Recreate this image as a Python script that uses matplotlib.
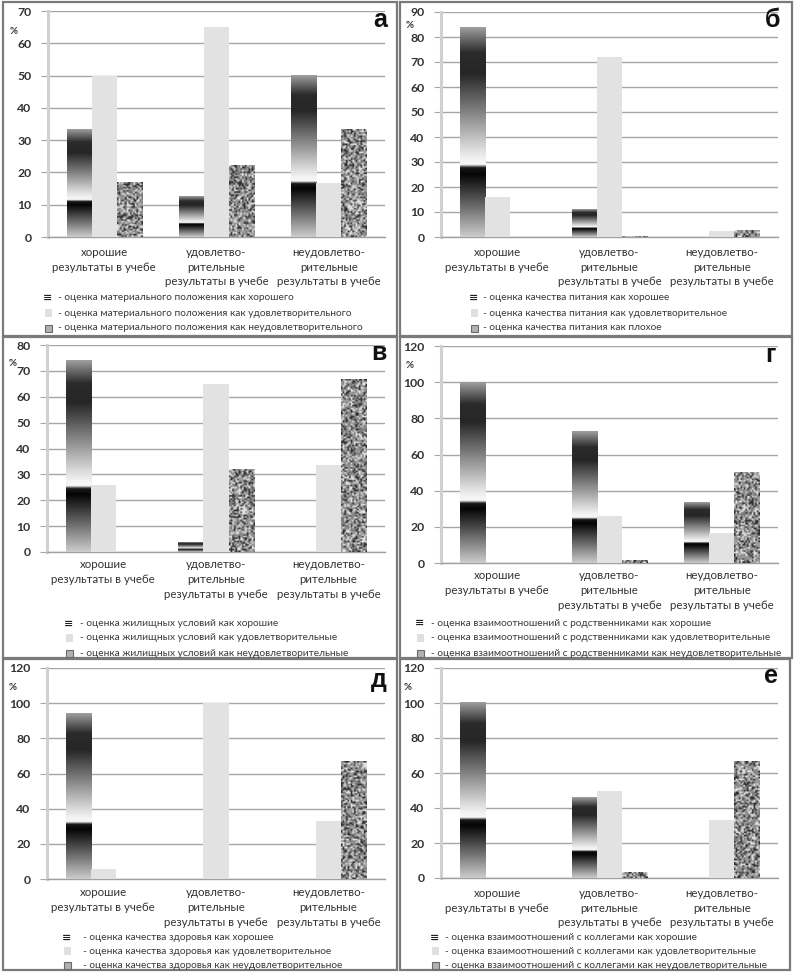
import numpy as np
import matplotlib
matplotlib.use("Agg")
import matplotlib.pyplot as plt
from matplotlib.patches import Rectangle

plt.rcParams['font.family'] = ['Lato', 'DejaVu Sans']

W, H = 795, 977

# ---------------- data ----------------
categories = ["хорошие\nрезультаты в учебе",
              "удовлетво-\nрительные\nрезультаты в учебе",
              "неудовлетво-\nрительные\nрезультаты в учебе"]

a_good = [33.3, 12.5, 50.0]
a_satisf = [50.0, 65.0, 16.7]
a_bad = [17.0, 22.0, 33.3]

b_good = [84.0, 11.0, 0.0]
b_satisf = [16.0, 72.0, 2.5]
b_bad = [0.0, 0.3, 2.6]

v_good = [74.0, 3.8, 0.0]
v_satisf = [26.0, 65.0, 33.5]
v_bad = [0.0, 31.8, 66.7]

g_good = [100.0, 72.5, 33.3]
g_satisf = [0.0, 26.0, 16.5]
g_bad = [0.0, 1.5, 50.0]

d_good = [94.0, 0.0, 0.0]
d_satisf = [5.7, 100.0, 33.0]
d_bad = [0.0, 0.0, 66.7]

e_good = [100.0, 46.0, 0.0]
e_satisf = [0.0, 50.0, 33.0]
e_bad = [0.0, 3.3, 66.7]

a_legend = ["- оценка материального положения как хорошего",
            "- оценка материального положения как удовлетворительного",
            "- оценка материального положения как неудовлетворительного"]
b_legend = ["- оценка качества питания как хорошее",
            "- оценка качества питания как удовлетворительное",
            "- оценка качества питания как плохое"]
v_legend = ["- оценка жилищных условий как хорошие",
            "- оценка жилищных условий как удовлетворительные",
            "- оценка жилищных условий как неудовлетворительные"]
g_legend = ["- оценка взаимоотношений с родственниками как хорошие",
            "- оценка взаимоотношений с родственниками как удовлетворительные",
            "- оценка взаимоотношений с родственниками как неудовлетворительные"]
d_legend = ["- оценка качества здоровья как хорошее",
            "- оценка качества здоровья как удовлетворительное",
            "- оценка качества здоровья как неудовлетворительное"]
e_legend = ["- оценка взаимоотношений с коллегами как хорошие",
            "- оценка взаимоотношений с коллегами как удовлетворительные",
            "- оценка взаимоотношений с коллегами как неудовлетворительные"]

# ---------------- layout ----------------
fig = plt.figure(figsize=(W / 100, H / 100), dpi=100)
fig.patch.set_facecolor('white')


def fx(x):
    return x / W


def fy(y):
    return 1 - y / H


def hashnoise(i, j, seed):
    v = np.sin(i * 12.9898 + j * 78.233 + seed * 37.719) * 43758.5453
    return v - np.floor(v)


def good_profile(n=300):
    t = np.linspace(0, 1, n)
    tp = [0, 0.30, 0.33, 0.345, 0.37, 0.42, 0.78, 0.88, 1.0]
    vp = [0.80, 0.02, 0.10, 0.97, 0.95, 0.86, 0.15, 0.17, 0.62]
    return np.interp(t, tp, vp)[:, None] * np.ones((1, 4))


NOISE_SEED = [0]


def noise_tex(rows, cols):
    NOISE_SEED[0] += 1
    i, j = np.meshgrid(np.arange(cols), np.arange(rows))
    u = hashnoise(i + 0.5, j + 0.5, NOISE_SEED[0])
    out = np.where(u < 0.2, 0.18, np.where(u < 0.45, 0.48, np.where(u < 0.78, 0.62, 0.88)))
    return out


def panel(box, axbox, ymax, ystep, good, satisf, bad, letter, letter_pos,
          pct_pos, legend, leg_x, leg_text_x, leg_y, xlabel_pad):
    # frame
    x0, y0, x1, y1 = box
    fig.add_artist(Rectangle((fx(x0), fy(y1)), fx(x1 - x0), (y1 - y0) / H,
                             transform=fig.transFigure, fill=False,
                             edgecolor='#7a7a7a', linewidth=1.6))
    l, r, t, b = axbox
    ax = fig.add_axes([fx(l), fy(b), fx(r - l), (b - t) / H])
    ax.set_facecolor('none')
    ppu = (b - t) / ymax
    bw = 0.223
    xs = np.arange(len(categories))
    for k, (gv, sv, bv) in enumerate(zip(good, satisf, bad)):
        c = xs[k]
        if gv > 0:
            ax.imshow(good_profile(), cmap='gray', vmin=0, vmax=1, aspect='auto',
                      origin='lower', extent=[c - 1.5 * bw, c - 0.5 * bw, 0, gv],
                      interpolation='bilinear', zorder=3)
        if bv > 0:
            rows = max(1, int(round(bv * ppu / 1.6)))
            ax.imshow(noise_tex(rows, 16), cmap='gray', vmin=0, vmax=1, aspect='auto',
                      origin='lower', extent=[c + 0.5 * bw, c + 1.5 * bw, 0, bv],
                      interpolation='bilinear', zorder=3)
    ax.bar(xs, satisf, width=bw, color='#e2e2e2', zorder=3, linewidth=0)
    ax.set_xlim(-0.5, 2.5)
    ax.set_ylim(0, ymax)
    ax.set_yticks(np.arange(0, ymax + 0.1, ystep))
    ax.set_xticks(xs)
    ax.set_xticklabels(categories, fontsize=8.3, color='#333333', linespacing=1.42)
    ax.yaxis.grid(True, color='#a6a6a6', linewidth=1.0)
    ax.set_axisbelow(True)
    for s in ('top', 'right'):
        ax.spines[s].set_visible(False)
    ax.spines['left'].set_color('#d0d0d0')
    ax.spines['left'].set_linewidth(2.2)
    ax.spines['bottom'].set_color('#a0a0a0')
    ax.spines['bottom'].set_linewidth(1.0)
    ax.tick_params(axis='y', length=5, color='#a6a6a6', pad=7, labelsize=8.8,
                   labelcolor='#333333')
    ax.tick_params(axis='x', length=0, pad=xlabel_pad)
    for lab in ax.get_yticklabels():
        lab.set_fontweight('bold')
    # panel letter
    fig.text(fx(letter_pos[0]), fy(letter_pos[1]), letter, ha='right', va='baseline',
             fontsize=18, fontweight='bold', color='#111111',
             family=['Liberation Sans', 'DejaVu Sans'])
    fig.text(fx(pct_pos[0]), fy(pct_pos[1]), '%', ha='center', va='center',
             fontsize=7, fontweight='bold', color='#333333')
    # legend
    for k, (txt, yy) in enumerate(zip(legend, leg_y)):
        if k == 0:
            fig.text(fx(leg_x + 3), fy(yy), '≡', ha='center', va='center',
                     fontsize=8, fontweight='bold', color='#222222',
                     family=['DejaVu Sans'])
        elif k == 1:
            fig.add_artist(Rectangle((fx(leg_x), fy(yy + 4)), fx(7), 8 / H,
                                     transform=fig.transFigure,
                                     facecolor='#e0e0e0', edgecolor='none'))
        else:
            fig.add_artist(Rectangle((fx(leg_x), fy(yy + 3.5)), fx(7), 7 / H,
                                     transform=fig.transFigure,
                                     facecolor='#b0b0b0', edgecolor='#6a6a6a',
                                     linewidth=0.8))
        fig.text(fx(leg_text_x), fy(yy), txt, ha='left', va='center',
                 fontsize=7.3, color='#3a3a3a')
    return ax


panel((3, 2, 397, 336), (48, 385, 11, 237), 70, 10, a_good, a_satisf, a_bad, 'а',
      (387, 27), (14, 32), a_legend, 45, 58, (298, 313, 328), 7)
panel((400, 2, 792, 336), (441, 778, 12, 237), 90, 10, b_good, b_satisf, b_bad, 'б',
      (780, 27), (410, 25), b_legend, 471, 483, (298, 313, 328), 7)
panel((3, 337, 397, 658), (47, 385, 345, 552), 80, 10, v_good, v_satisf, v_bad, 'в',
      (387, 360), (13, 363), v_legend, 66, 80, (624, 638, 653), 5)
panel((400, 337, 792, 658), (441, 778, 346, 563), 120, 20, g_good, g_satisf, g_bad, 'г',
      (776, 362), (410, 365), g_legend, 417, 431, (623, 638, 653), 5)
panel((3, 659, 397, 970), (47, 385, 668, 879), 120, 20, d_good, d_satisf, d_bad, 'д',
      (387, 687), (13, 688), d_legend, 64, 83, (938, 951, 965), 6)
panel((400, 659, 790, 970), (441, 778, 668, 878), 120, 20, e_good, e_satisf, e_bad, 'е',
      (778, 683), (408, 688), e_legend, 432, 445, (938, 951, 965), 7)

fig.savefig('out.png', dpi=100, facecolor='white')
